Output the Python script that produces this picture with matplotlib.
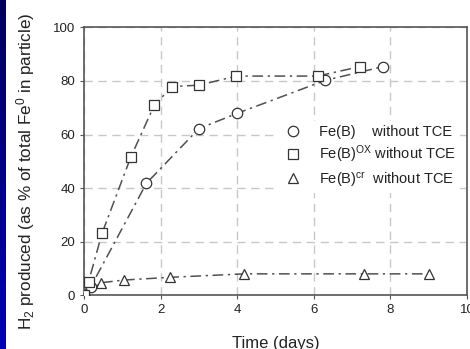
import numpy as np
import matplotlib.pyplot as plt
from matplotlib.lines import Line2D

plt.rcParams['font.family'] = ['Liberation Sans', 'DejaVu Sans']
plt.rcParams['mathtext.fontset'] = 'custom'
plt.rcParams['mathtext.rm'] = 'Liberation Sans'
plt.rcParams['mathtext.it'] = 'Liberation Sans'

# Fe(B) without TCE
feb_t = [0, 0.17, 1.63, 3.0, 4.0, 6.3, 7.8]
feb_h2 = [0, 3, 41.8, 62.2, 67.9, 80.2, 85.3]
# Fe(B)ox without TCE
febox_t = [0, 0.12, 0.47, 1.22, 1.84, 2.31, 3.0, 3.98, 6.1, 7.2]
febox_h2 = [0, 5.1, 23.1, 51.5, 71.1, 77.9, 78.4, 81.8, 81.8, 85.3]
# Fe(B)cr without TCE
febcr_t = [0, 0.45, 1.05, 2.24, 4.18, 7.31, 9.0]
febcr_h2 = [0, 4.7, 5.7, 6.7, 8.0, 8.0, 8.0]

labels = ['Fe(B)    without TCE',
          r'Fe(B)$^{\mathrm{OX}}$ without TCE',
          r'Fe(B)$^{\mathrm{cr}}$  without TCE']

fig = plt.figure(figsize=(4.70, 3.49), dpi=100)

# blue strip on the left edge
strip = fig.add_axes([0, 0, 6 / 470, 1])
cmap = plt.matplotlib.colors.LinearSegmentedColormap.from_list('b', ['#00005a', '#0000b4'])
strip.imshow(np.linspace(0, 1, 100).reshape(-1, 1), cmap=cmap,
             aspect='auto', extent=[0, 1, 0, 1], origin='upper')
strip.set_axis_off()

ax = fig.add_axes([84 / 470, 1 - 295.3 / 349, 383 / 470, 268 / 349])

ls = (0, (7, 3, 1.5, 3))
lc = '#505050'
mk = dict(mfc='white', mec='#333333', mew=0.9)
ax.plot(febcr_t, febcr_h2, ls=ls, color=lc, lw=1.1, marker='^', ms=7.5, zorder=3, **mk)
ax.plot(feb_t, feb_h2, ls=ls, color=lc, lw=1.1, marker='o', ms=7.5, zorder=3, **mk)
ax.plot(febox_t, febox_h2, ls=ls, color=lc, lw=1.1, marker='s', ms=7, zorder=4, **mk)

ax.set_xlim(0, 10)
ax.set_ylim(0, 100)
ax.set_xticks([0, 2, 4, 6, 8, 10])
ax.set_yticks([0, 20, 40, 60, 80, 100])
ax.grid(True, color='#c8c8c8', ls=(0, (6, 4)), lw=1)
ax.set_axisbelow(True)
for s in ax.spines.values():
    s.set_color('#555555')
    s.set_linewidth(1.2)
ax.tick_params(labelsize=9.5, colors='#222222', length=3, color='#555555')

ax.set_xlabel('Time (days)', fontsize=12, color='#222222', labelpad=14)
ax.set_ylabel(r'H$_2$ produced (as % of total Fe$^0$ in particle)',
              fontsize=12.3, color='#222222')
ax.yaxis.set_label_coords(-0.123, 0.462)

handles = [Line2D([], [], ls='none', marker='o', ms=7.5, **mk),
           Line2D([], [], ls='none', marker='s', ms=7, **mk),
           Line2D([], [], ls='none', marker='^', ms=7.5, **mk)]
leg = ax.legend(handles, labels, loc='upper left', bbox_to_anchor=(0.487, 0.678),
                fontsize=10.5, frameon=True, framealpha=1, facecolor='white',
                edgecolor='none', borderpad=0.3, handletextpad=1.0,
                labelspacing=0.3, handlelength=1.5)
for t in leg.get_texts():
    t.set_color('#222222')

fig.savefig('out.png', dpi=100)
